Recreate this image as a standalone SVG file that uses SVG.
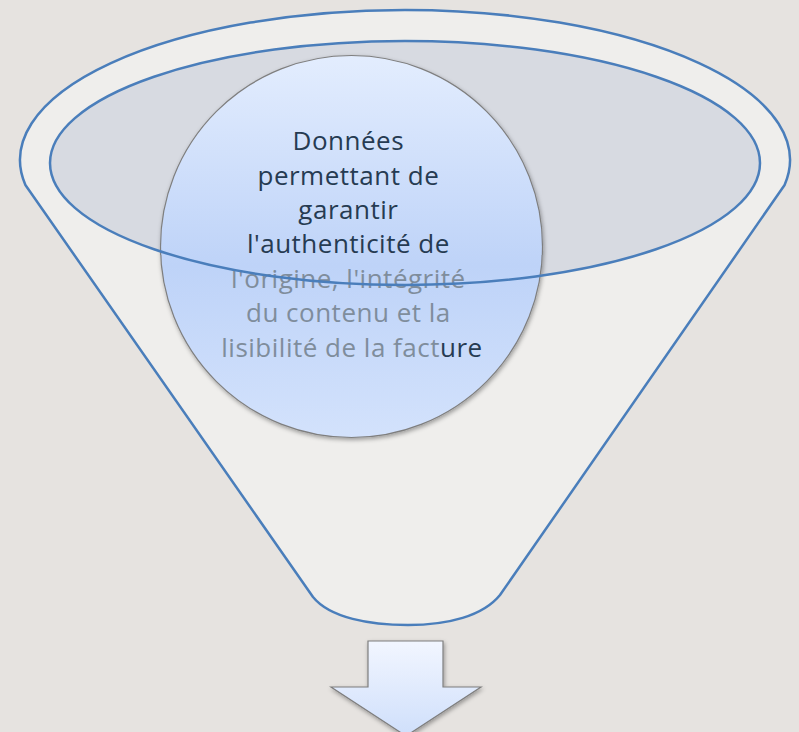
<svg xmlns="http://www.w3.org/2000/svg" width="799" height="732" viewBox="0 0 799 732">
<defs>
<linearGradient id="circGrad" x1="0" y1="0" x2="0" y2="1">
<stop offset="0" stop-color="#E3EDFE"/>
<stop offset="0.55" stop-color="#BED3F8"/>
<stop offset="1" stop-color="#D3E2FC"/>
</linearGradient>
<linearGradient id="arrowGrad" x1="0" y1="0" x2="0" y2="1">
<stop offset="0" stop-color="#F2F6FF"/>
<stop offset="1" stop-color="#CFDFFB"/>
</linearGradient>
<filter id="shadow" x="-10%" y="-10%" width="120%" height="120%">
<feDropShadow dx="1" dy="2" stdDeviation="2" flood-color="#000" flood-opacity="0.35"/>
</filter>
</defs>
<style>
.funnel{fill:#EFEEEC;stroke:#4A7EBB;stroke-width:2.5;stroke-linejoin:round}
.rim{fill:#D7DAE1;stroke:none}
.rimline{fill:none;stroke:#4A7EBB;stroke-width:2.5}
.circle{fill:url(#circGrad);stroke:#7F7F7F;stroke-width:1.2;filter:url(#shadow)}
.lbl{font-family:"Open Sans","Liberation Sans",sans-serif;font-size:26px;letter-spacing:0.5px;text-anchor:middle}
.dark{fill:#263B52}
.light{fill:#7F8D9C}
.arrow{fill:url(#arrowGrad);stroke:#7F7F7F;stroke-width:1.2;filter:url(#shadow)}
</style>
<rect width="799" height="732" fill="#E6E3E0"/>
<g id="funnel">
<path class="funnel" d="M 25.4,185 L 313,597 C 330,618 370,625 408,625 C 448,625 483,616 500,595 L 784.6,185 A 385 150 0 1 0 25.4,185 Z"/>
</g>
<g id="rim">
<ellipse class="rim" cx="405" cy="163" rx="355" ry="122"/>
</g>
<g id="node-donnees">
<circle class="circle" cx="351.5" cy="246.5" r="191"/>
<text class="lbl" x="352">
<tspan class="dark" x="352" y="150">Données</tspan>
<tspan class="dark" x="352" y="184.5">permettant de</tspan>
<tspan class="dark" x="352" y="219">garantir</tspan>
<tspan class="dark" x="352" y="253">l'authenticité de</tspan>
<tspan class="light" x="352" y="288">l'origine, l'intégrité</tspan>
<tspan class="light" x="352" y="322">du contenu et la</tspan>
<tspan class="light" x="352" y="357">lisibilité de la fact<tspan class="dark">ure</tspan></tspan>
</text>
</g>
<g id="rim-outline">
<ellipse class="rimline" cx="405" cy="163" rx="355" ry="122"/>
</g>
<g id="connectors">
<path class="arrow" d="M 368,641 L 443,641 L 443,687 L 481,687 L 406,736 L 331,687 L 368,687 Z"/>
</g>
</svg>
